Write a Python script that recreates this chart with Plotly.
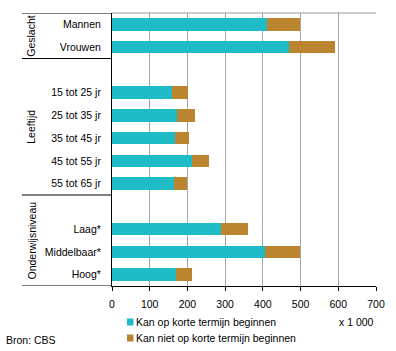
import plotly.graph_objects as go

# ---- data ----
groups = ["Geslacht", "Leeftijd", "Onderwijsniveau"]
categories = ["Mannen", "Vrouwen",
              "15 tot 25 jr", "25 tot 35 jr", "35 tot 45 jr", "45 tot 55 jr", "55 tot 65 jr",
              "Laag*", "Middelbaar*", "Hoog*"]
group_index = [0, 0, 1, 1, 1, 1, 1, 2, 2, 2]
kan = [411, 469, 159, 173, 168, 211, 164, 289, 406, 170]
kan_niet = [87, 122, 42, 47, 37, 46, 35, 72, 92, 42]
series_names = ["Kan op korte termijn beginnen", "Kan niet op korte termijn beginnen"]
x_ticks = [0, 100, 200, 300, 400, 500, 600, 700]

# ---- layout constants ----
W, H = 396, 351
L, R, T, B = 112, 20, 13, 65
PW, PH = W - L - R, H - T - B
FONT = "Liberation Sans, Arial, sans-serif"
FS = 10.5
TEAL = "rgb(31,187,198)"
BROWN = "rgb(187,133,48)"

def px_x(px):
    return (px - L) / PW

def px_y(py):
    return (H - B - py) / PH

pos = [i + g for i, g in enumerate(group_index)]
n_slots = pos[-1] + 1

fig = go.Figure()
fig.add_trace(go.Bar(y=pos, x=kan, orientation="h", name=series_names[0],
                     marker=dict(color=TEAL, line=dict(width=0)), width=0.55))
fig.add_trace(go.Bar(y=pos, x=kan_niet, orientation="h", name=series_names[1],
                     marker=dict(color=BROWN, line=dict(width=0)), width=0.55))

shapes = []
annotations = []
# group boundaries
prev = -0.5
for g, name in enumerate(groups):
    members = [p for p, gi in zip(pos, group_index) if gi == g]
    end = members[-1] + 0.5
    annotations.append(dict(x=px_x(31), xref="paper", y=(prev + end) / 2, yref="y",
                            text=name, textangle=-90, showarrow=False,
                            xanchor="center", yanchor="middle",
                            font=dict(family=FONT, size=FS, color="black")))
    shapes.append(dict(type="line", xref="paper", yref="y", x0=px_x(22), x1=0,
                       y0=end, y1=end, line=dict(color="black", width=1)))
    prev = end
# top line over label area and top border of plot
shapes.append(dict(type="line", xref="paper", yref="y", x0=px_x(22), x1=0,
                   y0=-0.5, y1=-0.5, line=dict(color="black", width=1)))
shapes.append(dict(type="line", xref="paper", yref="paper", x0=0, x1=1,
                   y0=1, y1=1, line=dict(color="#999999", width=1)))

# manual legend
for i, (name, col) in enumerate(zip(series_names, [TEAL, BROWN])):
    cy = 322 + 16 * i
    shapes.append(dict(type="rect", xref="paper", yref="paper",
                       x0=px_x(127), x1=px_x(133.5), y0=px_y(cy + 3.5), y1=px_y(cy - 3.5),
                       fillcolor=col, line=dict(width=0)))
    annotations.append(dict(x=px_x(134), xref="paper", y=px_y(cy), yref="paper",
                            text=name, showarrow=False, xanchor="left", yanchor="middle",
                            font=dict(family=FONT, size=FS, color="black")))

annotations.append(dict(x=px_x(376), xref="paper", y=px_y(322), yref="paper",
                        text="x 1 000", showarrow=False, xanchor="right", yanchor="middle",
                        font=dict(family=FONT, size=FS, color="black")))
annotations.append(dict(x=px_x(4), xref="paper", y=px_y(340), yref="paper",
                        text="Bron: CBS", showarrow=False, xanchor="left", yanchor="middle",
                        font=dict(family=FONT, size=FS, color="black")))

fig.update_layout(
    width=W, height=H, margin=dict(l=L, r=R, t=T, b=B, pad=0),
    barmode="stack", showlegend=False,
    paper_bgcolor="white", plot_bgcolor="white",
    font=dict(family=FONT, size=FS, color="black"),
    shapes=shapes, annotations=annotations,
    xaxis=dict(range=[0, 700], tickvals=x_ticks, ticks="outside", ticklen=4,
               tickcolor="black", showgrid=True, gridcolor="#A6A6A6", gridwidth=1,
               showline=True, linecolor="black", linewidth=1, zeroline=False,
               ticklabelstandoff=4,
               tickfont=dict(family=FONT, size=FS, color="black"), fixedrange=True),
    yaxis=dict(range=[n_slots - 0.5, -0.5], tickvals=pos, ticktext=categories,
               ticks="", showgrid=False, showline=True, linecolor="black", linewidth=1,
               zeroline=False, ticklabelstandoff=8,
               tickfont=dict(family=FONT, size=FS, color="black"), fixedrange=True),
)

fig.write_html("out.html")
